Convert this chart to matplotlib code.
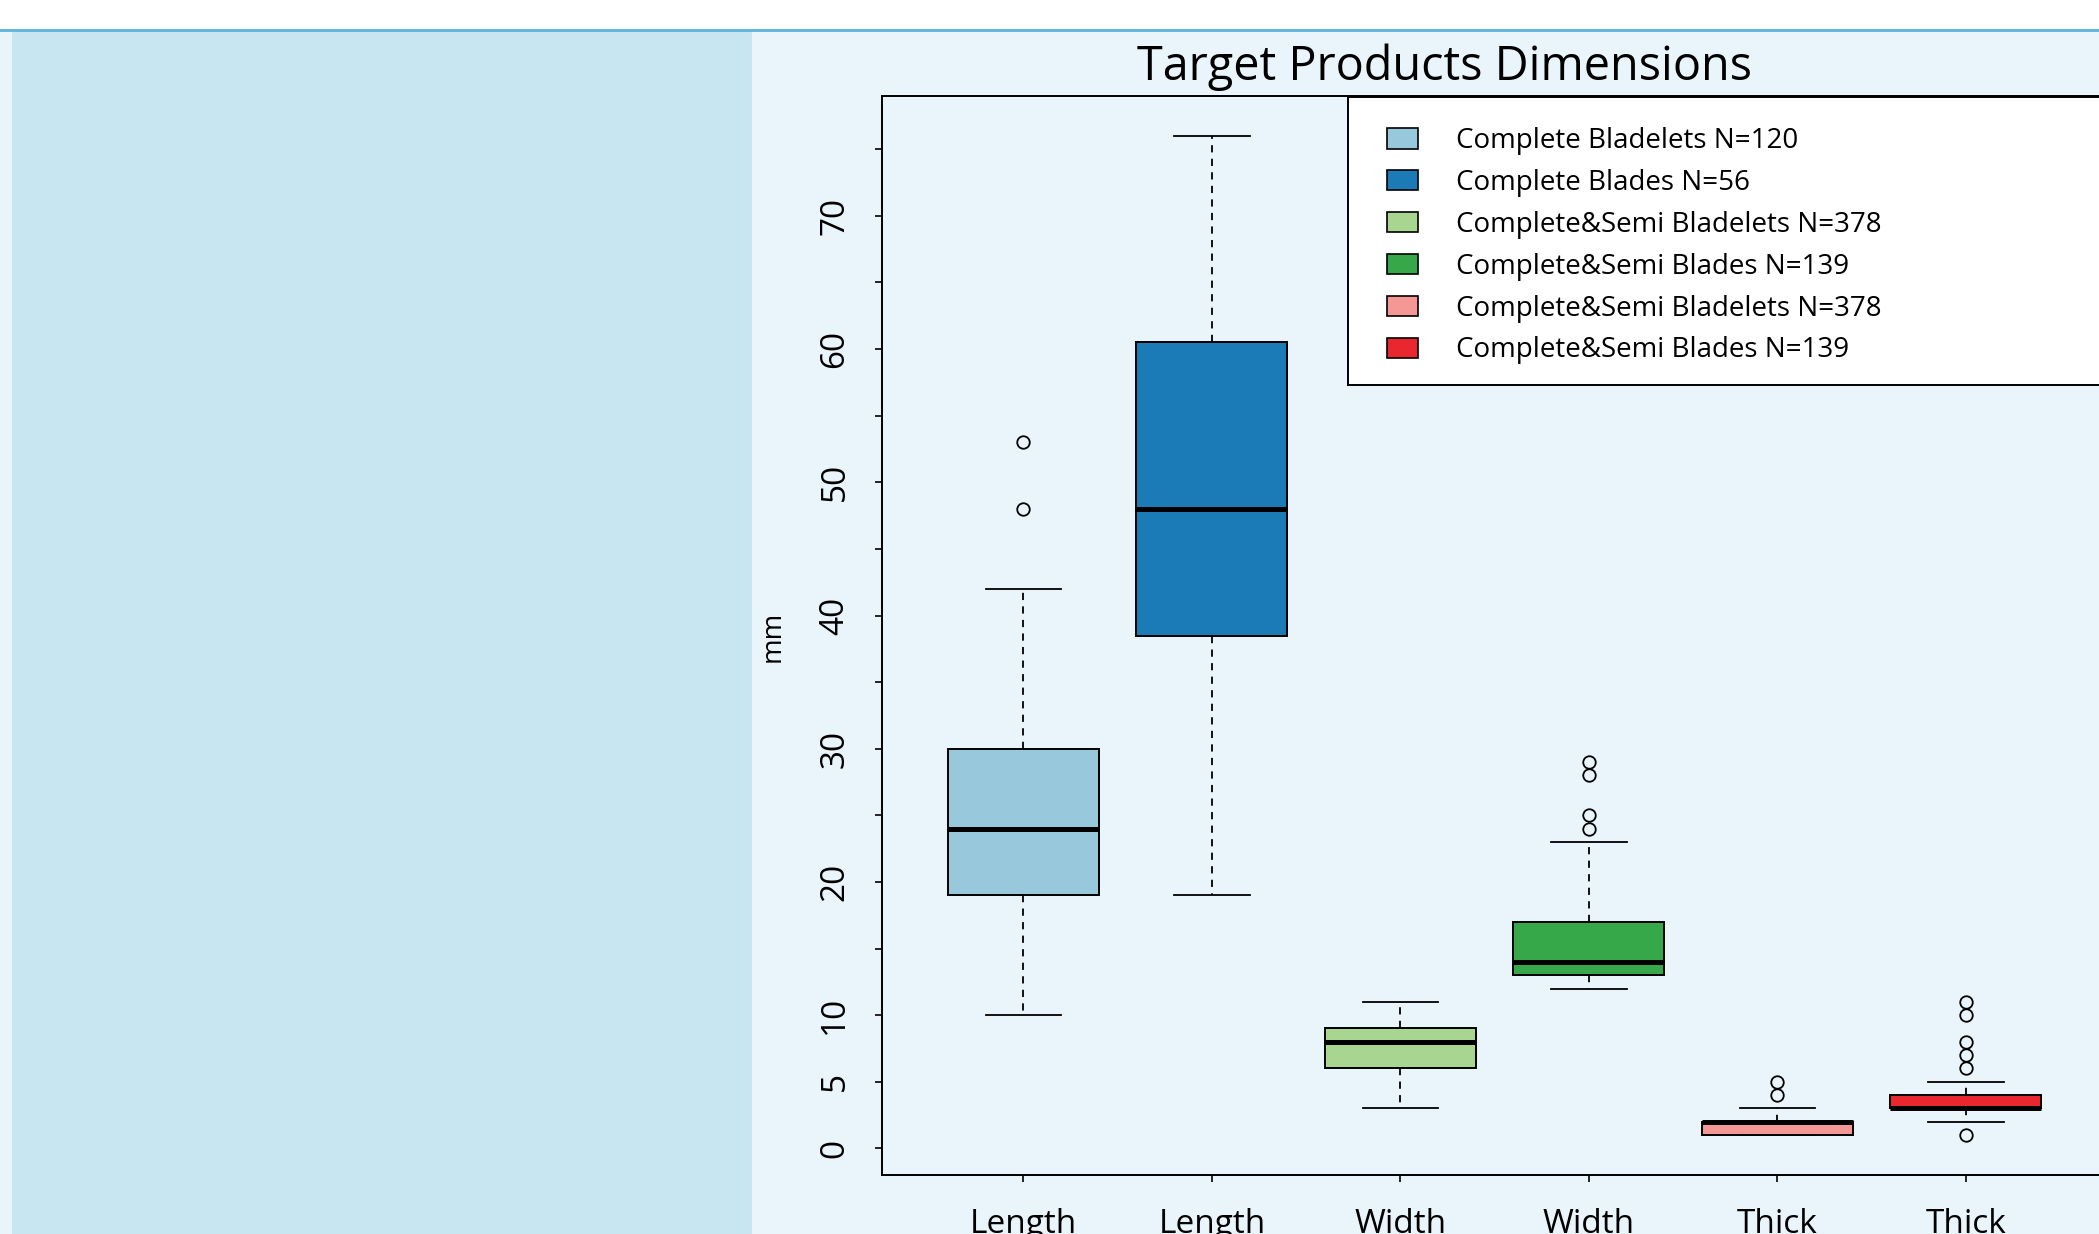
import matplotlib
matplotlib.use("Agg")
import matplotlib.pyplot as plt
from matplotlib.patches import Patch, Rectangle
from matplotlib.lines import Line2D

W, H = 2099, 1234
DPI = 100

# box plot data (mm)
groups = ["Length", "Length", "Width", "Width", "Thick", "Thick"]
labels = ["Complete Bladelets N=120", "Complete Blades N=56",
          "Complete&Semi Bladelets N=378", "Complete&Semi Blades N=139",
          "Complete&Semi Bladelets N=378", "Complete&Semi Blades N=139"]
colors = ["#97c8dc", "#1a7bb6", "#a8d590", "#36a849", "#f59795", "#e8282e"]

q1 = [19, 38.5, 6, 13, 1, 3]
med = [24, 48, 8, 14, 2, 3]
q3 = [30, 60.5, 9, 17, 2, 4]
whislo = [10, 19, 3, 12, 1, 2]
whishi = [42, 76, 11, 23, 3, 5]
fliers = [[48, 53], [], [], [24, 25, 28, 29], [4, 5], [1, 6, 7, 8, 10, 11]]

yticks = list(range(0, 80, 5))
ytick_labels = ["0", "5", "10", "", "20", "", "30", "", "40", "", "50", "", "60", "", "70", ""]

plt.rcParams["font.family"] = ["Open Sans", "DejaVu Sans"]

fig = plt.figure(figsize=(W / DPI, H / DPI), dpi=DPI)
fig.patch.set_facecolor("#eaf5fb")

# page decoration: white header, blue rule, left panel
fig.add_artist(Rectangle((0, 1 - 29 / H), 1, 29 / H, transform=fig.transFigure,
                         facecolor="white", edgecolor="none", zorder=-10))
fig.add_artist(Line2D([0, 1], [1 - 30 / H, 1 - 30 / H], transform=fig.transFigure,
                      color="#5ab4dc", linewidth=2, zorder=-9))
fig.add_artist(Rectangle((12 / W, 0), (752 - 12) / W, 1 - 31 / H, transform=fig.transFigure,
                         facecolor="#c8e6f1", edgecolor="none", zorder=-10))

ax = fig.add_axes([882 / W, 1 - 1175 / H, (2200 - 882) / W, (1175 - 96) / H])
ax.set_facecolor("none")

stats = []
for i in range(len(groups)):
    stats.append(dict(med=med[i], q1=q1[i], q3=q3[i], whislo=whislo[i],
                      whishi=whishi[i], fliers=fliers[i]))

bp = ax.bxp(stats, positions=range(1, 7), widths=0.8, capwidths=0.4,
            patch_artist=True,
            boxprops=dict(edgecolor="black", linewidth=1.4),
            medianprops=dict(color="black", linewidth=3.6, solid_capstyle="butt"),
            whiskerprops=dict(color="black", linewidth=1.3, linestyle=(0, (4, 3.5))),
            capprops=dict(color="black", linewidth=1.3),
            flierprops=dict(marker="o", markerfacecolor="none", markeredgecolor="black",
                            markersize=9, markeredgewidth=1.3))
for patch, c in zip(bp["boxes"], colors):
    patch.set_facecolor(c)

ax.set_xlim(0.25, 0.25 + (2200 - 882) / 188.5)
ax.set_ylim(-2, 79)
ax.set_xticks(range(1, 7))
ax.set_xticklabels(groups, fontsize=24)
ax.set_yticks(yticks)
ax.set_yticklabels(ytick_labels, fontsize=24, rotation=90, va="center")
ax.tick_params(axis="both", length=5, width=1.2, color="black")
ax.tick_params(axis="x", pad=18.5)
ax.tick_params(axis="y", pad=17)
for s in ax.spines.values():
    s.set_linewidth(1.4)

# legend frame running off the right edge
ax.add_artist(Rectangle((1348 / W, 1 - 385 / H), 0.5, (385 - 97) / H, transform=fig.transFigure,
                        facecolor="white", edgecolor="black", linewidth=1.4, clip_on=False, zorder=4))
handles = [Patch(facecolor=c, edgecolor="black", linewidth=1.2) for c in colors]
leg = ax.legend(handles, labels, loc="upper left", bbox_to_anchor=(1387 / W, 1 - 127 / H),
                bbox_transform=fig.transFigure, frameon=False, fontsize=20,
                handlelength=1.12, handleheight=0.76, handletextpad=1.35,
                labelspacing=0.5, borderpad=0, borderaxespad=0)
leg.set_zorder(5)

fig.text(1444.5 / W, 1 - 80 / H, "Target Products Dimensions", ha="center", va="baseline",
         fontsize=33.7)
fig.text(773 / W, 1 - 636 / H, "mm", ha="center", va="center", rotation=90, fontsize=20)

fig.savefig("out.png", dpi=DPI, facecolor=fig.get_facecolor())
